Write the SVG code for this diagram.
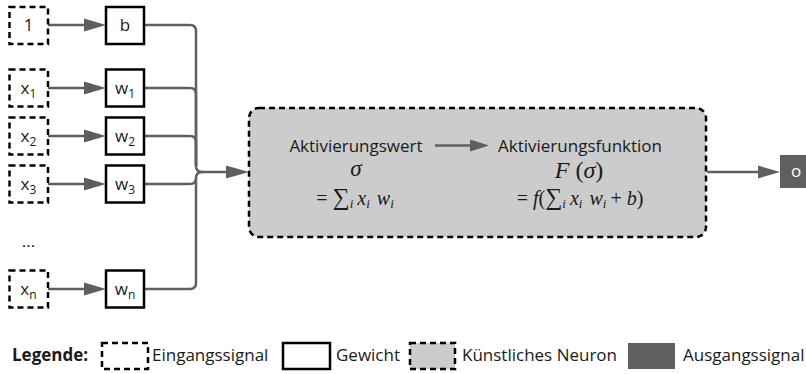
<svg xmlns="http://www.w3.org/2000/svg" width="806" height="374" viewBox="0 0 806 374">
  <style>
    .in { fill: #ffffff; stroke: #000; stroke-width: 2.5; stroke-dasharray: 6 4; }
    .wt { fill: #ffffff; stroke: #000; stroke-width: 2.5; }
    .neuron { fill: #cccccc; stroke: #000; stroke-width: 2.5; stroke-dasharray: 6 4; }
    .out { fill: #5f5f5f; }
    .wire { fill: none; stroke: #5f5f5f; stroke-width: 2.5; }
    .head { fill: #5f5f5f; }
    .lbl { font-family: "Open Sans", "Noto Sans", sans-serif; font-size: 17px; fill: #1a1a1a; }
    .sub { font-size: 12px; }
    .math { font-family: "Liberation Serif", "DejaVu Serif", serif; fill: #1a1a1a; }
    .it { font-style: italic; }
    .idx { font-style: italic; font-size: 13px; }
    .sum { font-size: 24px; }
  </style>

  <!-- artificial neuron body (drawn first so the wires sit on top) -->
  <g id="neuron">
    <rect class="neuron" x="249" y="108" width="457" height="129" rx="10"/>
    <text class="lbl" x="356" y="152" text-anchor="middle">Aktivierungswert</text>
    <text class="math it" x="356" y="176" text-anchor="middle" font-size="23">σ</text>
    <text class="math" x="355" y="205" text-anchor="middle" font-size="20">= <tspan class="sum">∑</tspan><tspan class="idx" dy="3">i</tspan><tspan class="it" dx="4" dy="-3">x</tspan><tspan class="idx" dy="3">i</tspan><tspan class="it" dx="7" dy="-3">w</tspan><tspan class="idx" dy="3">i</tspan></text>

    <text class="lbl" x="580" y="152" text-anchor="middle">Aktivierungsfunktion</text>
    <text class="math" x="579" y="178" text-anchor="middle" font-size="24"><tspan class="it">F</tspan> (<tspan class="it">σ</tspan>)</text>
    <text class="math" x="580" y="205" text-anchor="middle" font-size="20">= <tspan class="it">f</tspan>(<tspan class="sum">∑</tspan><tspan class="idx" dy="3">i</tspan><tspan class="it" dx="4" dy="-3">x</tspan><tspan class="idx" dy="3">i</tspan><tspan class="it" dx="7" dy="-3">w</tspan><tspan class="idx" dy="3">i</tspan><tspan dx="4" dy="-3">+ </tspan><tspan class="it">b</tspan>)</text>
  </g>

  <!-- connectors -->
  <g id="connectors">
    <!-- inputs to weights -->
    <path class="wire" d="M48,25 H85"/>
    <polygon class="head" points="84,18.5 106,25 84,31.5"/>
    <path class="wire" d="M48,88 H85"/>
    <polygon class="head" points="84,81.5 106,88 84,94.5"/>
    <path class="wire" d="M48,136 H85"/>
    <polygon class="head" points="84,129.5 106,136 84,142.5"/>
    <path class="wire" d="M48,184 H85"/>
    <polygon class="head" points="84,177.5 106,184 84,190.5"/>
    <path class="wire" d="M48,289 H85"/>
    <polygon class="head" points="84,282.5 106,289 84,295.5"/>

    <!-- weights merge into neuron -->
    <path class="wire" d="M144,25 H190 Q196,25 196,31 V166 Q196,172 202,172"/>
    <path class="wire" d="M144,88 H190 Q196,88 196,94 V166"/>
    <path class="wire" d="M144,136 H190 Q196,136 196,142 V166"/>
    <path class="wire" d="M144,184 H190 Q196,184 196,178 Q196,172 202,172"/>
    <path class="wire" d="M144,289 H190 Q196,289 196,283 V178"/>
    <path class="wire" d="M201,172 H228"/>
    <polygon class="head" points="226,165.5 249,172 226,178.5"/>

    <!-- value to activation function -->
    <path class="wire" d="M435,145.5 H472"/>
    <polygon class="head" points="470,139.5 489,145.5 470,151.5"/>

    <!-- neuron to output -->
    <path class="wire" d="M707,172 H760"/>
    <polygon class="head" points="758,165.5 780,172 758,178.5"/>
  </g>

  <!-- input nodes -->
  <g id="in-1">
    <rect class="in" x="9.5" y="7" width="38.5" height="37"/>
    <text class="lbl" x="28.5" y="31" text-anchor="middle">1</text>
  </g>
  <g id="in-x1">
    <rect class="in" x="9.5" y="69.5" width="38.5" height="37"/>
    <text class="lbl" x="28.5" y="94" text-anchor="middle">x<tspan class="sub" dy="4">1</tspan></text>
  </g>
  <g id="in-x2">
    <rect class="in" x="9.5" y="117.5" width="38.5" height="37"/>
    <text class="lbl" x="28.5" y="142" text-anchor="middle">x<tspan class="sub" dy="4">2</tspan></text>
  </g>
  <g id="in-x3">
    <rect class="in" x="9.5" y="165.5" width="38.5" height="37"/>
    <text class="lbl" x="28.5" y="190" text-anchor="middle">x<tspan class="sub" dy="4">3</tspan></text>
  </g>
  <g id="ellipsis">
    <text class="lbl" x="28.5" y="247" text-anchor="middle">...</text>
  </g>
  <g id="in-xn">
    <rect class="in" x="9.5" y="270.5" width="38.5" height="37"/>
    <text class="lbl" x="28.5" y="295" text-anchor="middle">x<tspan class="sub" dy="4">n</tspan></text>
  </g>

  <!-- weight nodes -->
  <g id="w-b">
    <rect class="wt" x="106" y="7" width="38" height="37"/>
    <text class="lbl" x="125" y="31" text-anchor="middle">b</text>
  </g>
  <g id="w-1">
    <rect class="wt" x="106" y="69.5" width="38" height="37"/>
    <text class="lbl" x="125" y="94" text-anchor="middle">w<tspan class="sub" dy="4">1</tspan></text>
  </g>
  <g id="w-2">
    <rect class="wt" x="106" y="117.5" width="38" height="37"/>
    <text class="lbl" x="125" y="142" text-anchor="middle">w<tspan class="sub" dy="4">2</tspan></text>
  </g>
  <g id="w-3">
    <rect class="wt" x="106" y="165.5" width="38" height="37"/>
    <text class="lbl" x="125" y="190" text-anchor="middle">w<tspan class="sub" dy="4">3</tspan></text>
  </g>
  <g id="w-n">
    <rect class="wt" x="106" y="270.5" width="38" height="37"/>
    <text class="lbl" x="125" y="295" text-anchor="middle">w<tspan class="sub" dy="4">n</tspan></text>
  </g>

  <!-- output node -->
  <g id="out-o">
    <rect class="out" x="780" y="155" width="30" height="33"/>
    <text class="lbl" x="796" y="177" text-anchor="middle" style="fill:#ffffff">o</text>
  </g>

  <!-- legend -->
  <g id="legend">
    <text class="lbl" x="12" y="361" font-weight="bold">Legende:</text>
    <rect class="in" x="102" y="343" width="46" height="26"/>
    <text class="lbl" x="152" y="361">Eingangssignal</text>
    <rect class="wt" x="283" y="343" width="47" height="26"/>
    <text class="lbl" x="336" y="361">Gewicht</text>
    <rect class="neuron" x="410" y="343" width="45" height="26"/>
    <text class="lbl" x="462" y="361">Künstliches Neuron</text>
    <rect class="out" x="628" y="343" width="47" height="26"/>
    <text class="lbl" x="683" y="361">Ausgangssignal</text>
  </g>
</svg>
